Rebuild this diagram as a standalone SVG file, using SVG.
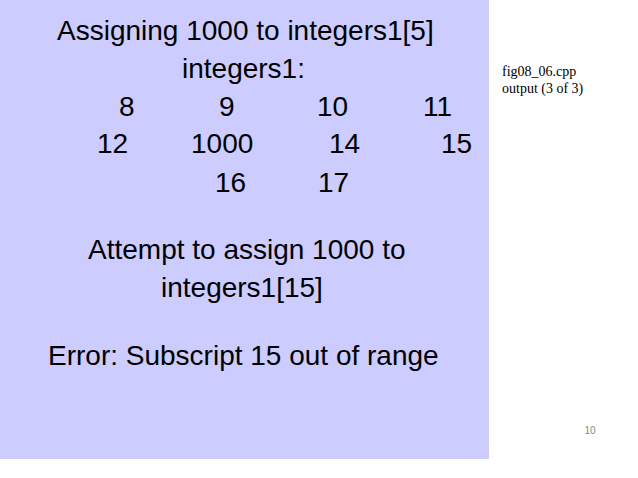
<svg xmlns="http://www.w3.org/2000/svg" width="638" height="478" viewBox="0 0 638 478">
<style>
.t{font-family:"Liberation Sans",Arial,sans-serif;font-size:28px;fill:#000}
.s{font-family:"Liberation Serif","Times New Roman",serif;font-size:14px;fill:#000}
</style>
<rect width="638" height="478" fill="#fff"/>
<rect x="0" y="0" width="489" height="459" fill="#CCCCFF"/>
<g id="output">
<text class="t" x="57" y="40">Assigning 1000 to integers1[5]</text>
<text class="t" x="182" y="78">integers1:</text>
<text class="t" x="119" y="116">8</text>
<text class="t" x="219" y="116">9</text>
<text class="t" x="317" y="116">10</text>
<text class="t" x="423" y="116">11</text>
<text class="t" x="97" y="153">12</text>
<text class="t" x="191" y="153">1000</text>
<text class="t" x="329" y="153">14</text>
<text class="t" x="441" y="153">15</text>
<text class="t" x="215" y="192">16</text>
<text class="t" x="318" y="192">17</text>
<text class="t" x="88" y="259">Attempt to assign 1000 to</text>
<text class="t" x="161" y="297">integers1[15]</text>
<text class="t" x="48" y="365">Error: Subscript 15 out of range</text>
</g>
<g id="caption">
<text class="s" x="502" y="76">fig08_06.cpp</text>
<text class="s" x="502" y="93">output (3 of 3)</text>
</g>
<text x="590" y="434" font-family="Liberation Sans,Arial,sans-serif" font-size="10" fill="#888" text-anchor="middle">10</text>
</svg>
